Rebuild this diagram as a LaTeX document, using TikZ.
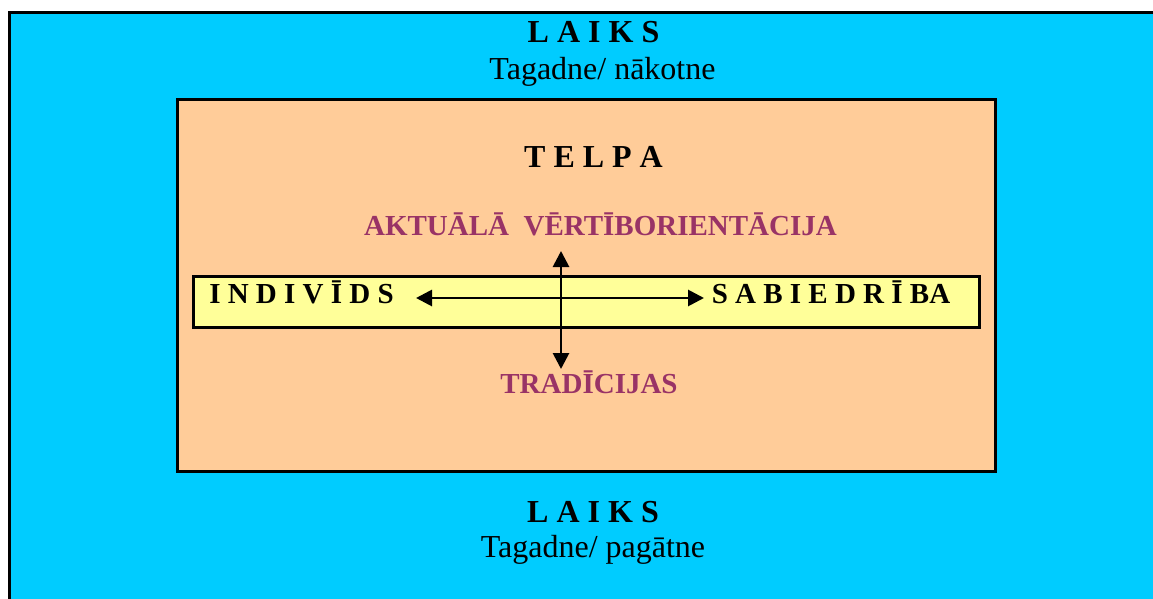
\documentclass[tikz,border=0pt]{standalone}
\usepackage{fontspec}
\setmainfont{Liberation Serif}
\usetikzlibrary{arrows.meta}
\definecolor{skyc}{HTML}{00CCFF}
\definecolor{peach}{HTML}{FFCC99}
\definecolor{paleyel}{HTML}{FFFF99}
\definecolor{plum}{HTML}{993366}
\tikzset{
  box/.style={draw=black, line width=3pt},
  lbl/.style={anchor=base, inner sep=0pt},
  blk/.style={lbl, font=\fontsize{32}{36}\selectfont\bfseries},
  sub/.style={lbl, font=\fontsize{32}{36}\selectfont},
  purp/.style={lbl, text=plum, font=\fontsize{29}{33}\selectfont\bfseries},
  axis/.style={lbl, font=\fontsize{29}{33}\selectfont\bfseries},
  dblarrow/.style={line width=2.8pt, {Triangle[length=16pt,width=16pt]}-{Triangle[length=16pt,width=16pt]}}
}
\begin{document}
\begin{tikzpicture}[x=1pt,y=-1pt]
\clip (0,0) rectangle (1153,599);
\useasboundingbox (0,0) rectangle (1153,599);
\fill[white] (0,0) rectangle (1153,599);
\filldraw[box, fill=skyc] (9,13) rectangle (1175,625);
\filldraw[box, fill=peach] (177,100) rectangle (995,471);
\filldraw[box, fill=paleyel] (193,276) rectangle (979,327);

\node[blk] (laikstop) at (593.5,43) {L A I K S};
\node[sub] (future) at (602.5,80) {Tagadne/ nākotne};
\node[blk] (telpa) at (593.5,167) {T E L P A};
\node[purp] (aktual) at (600.5,235) {AKTUĀLĀ\ \ VĒRTĪBORIENTĀCIJA};
\node[axis] (indiv) at (301.5,303) {I N D I V Ī D S};
\node[axis] (sabied) at (831,303) {S A B I E D R Ī BA};
\node[purp] (trad) at (589,393) {TRADĪCIJAS};
\node[blk] (laiksbot) at (593,522) {L A I K S};
\node[sub] (past) at (593,557) {Tagadne/ pagātne};

\coordinate (hl) at (416,298);
\coordinate (hr) at (704,298);
\coordinate (vt) at (561,251);
\coordinate (vb) at (561,369);
\draw[dblarrow] (hl) -- (hr);
\draw[dblarrow] (vt) -- (vb);
\end{tikzpicture}
\end{document}
